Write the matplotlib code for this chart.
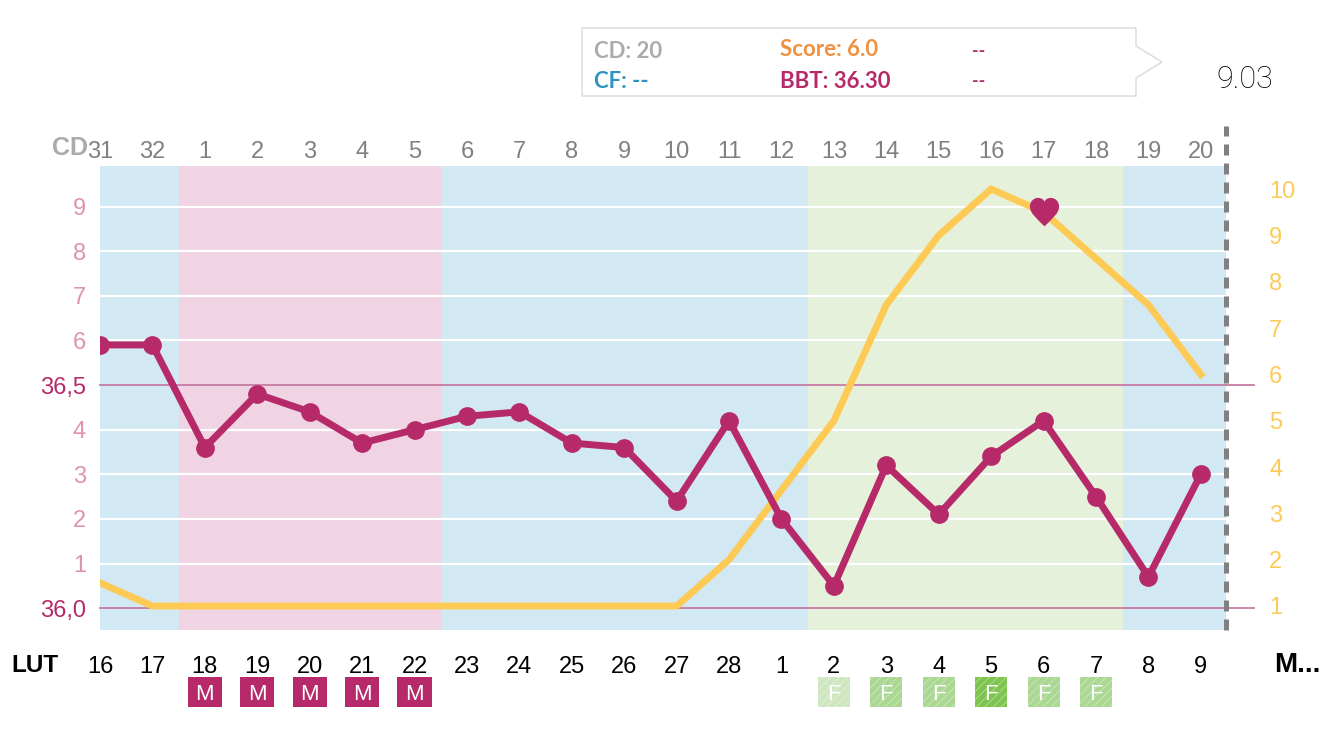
import matplotlib
matplotlib.use('Agg')
import matplotlib.pyplot as plt
from matplotlib.patches import Rectangle, Polygon
from matplotlib.path import Path

plt.rcParams['font.family'] = ['Liberation Sans', 'DejaVu Sans']
plt.rcParams['hatch.linewidth'] = 0.6

# Chart data
cd_labels = ['31', '32'] + [str(d) for d in range(1, 21)]
lut_labels = [str(d) for d in range(16, 29)] + [str(d) for d in range(1, 10)]
bbt = [36.59, 36.59, 36.36, 36.48, 36.44, 36.37, 36.40, 36.43, 36.44, 36.37, 36.36,
       36.24, 36.42, 36.20, 36.05, 36.32, 36.21, 36.34, 36.42, 36.25, 36.07, 36.30]
score = [1.5, 1, 1, 1, 1, 1, 1, 1, 1, 1, 1, 1, 2, 3.5, 5, 7.5, 9, 10, 9.5, 8.5, 7.5, 6]
bbt_ticks = [36.0, 36.1, 36.2, 36.3, 36.4, 36.5, 36.6, 36.7, 36.8, 36.9]
bbt_ticklabels = ['36,0', '1', '2', '3', '4', '36,5', '6', '7', '8', '9']
score_ticks = list(range(1, 11))
heart_day = 18
period_days = [2, 3, 4, 5, 6]
fertile_days = [14, 15, 16, 17, 18, 19]
fertile_colors = ['#cfe7c0', '#aad893', '#aad893', '#7fc450', '#aad893', '#aad893']
bands = [(-0.5, 1.5, '#d2e8f3'), (1.5, 6.5, '#f0d4e3'), (6.5, 13.5, '#d2e8f3'),
         (13.5, 19.52, '#e5f1da'), (19.52, 21.48, '#d2e8f3')]

days = list(range(len(cd_labels)))
pink = '#b62a69'
yellow = '#fdcb55'

# Heart shaped marker
heart = Path([(0, -0.95), (-0.55, -0.4), (-1, -0.05), (-1, 0.4), (-1, 0.8), (-0.7, 1), (-0.45, 1),
              (-0.2, 1), (-0.05, 0.88), (0, 0.74), (0.05, 0.88), (0.2, 1), (0.45, 1),
              (0.7, 1), (1, 0.8), (1, 0.4), (1, -0.05), (0.55, -0.4), (0, -0.95), (0, -0.95)],
             [Path.MOVETO] + [Path.CURVE4] * 18 + [Path.CLOSEPOLY])

fig = plt.figure(figsize=(13.34, 7.5), dpi=100)
ax = fig.add_axes([100 / 1334, 120 / 750, 1126 / 1334, 464 / 750])
ax2 = ax.twinx()
ax.set_xlim(0, 21.48)
ax.set_ylim(35.951, 36.991)
ax2.set_ylim(1 - 24 / 46.33, 1 + 440 / 46.33)
for spine in list(ax.spines.values()) + list(ax2.spines.values()):
    spine.set_visible(False)

# Phase bands and grid
for start, end, color in bands:
    ax.axvspan(start, end, color=color, lw=0, zorder=0)
for t in bbt_ticks:
    if t not in (36.0, 36.5):
        ax.axhline(t, color='white', lw=1.6, zorder=1)
for t in (36.0, 36.5):
    ax.plot([0, 22.01], [t, t], color='#c77ba5', lw=1.3, zorder=1, clip_on=False)

# Score line, scaled by the right axis but layered under the BBT line
ax.plot(days, score, color=yellow, lw=5, zorder=2, transform=ax2.transData,
        solid_joinstyle='miter')

# BBT line, first point is cut by the chart edge
ax.plot(days, bbt, color=pink, lw=5, zorder=3, solid_joinstyle='miter')
ax.plot(days, bbt, color=pink, ls='none', marker='o', ms=13.5, mew=0, zorder=3)
ax.plot([heart_day], [score[heart_day]], marker=heart, ms=21, color=pink, mew=0, zorder=5,
        transform=ax2.transData)

# Left, bottom and top axes
ax.set_yticks(bbt_ticks)
ax.set_yticklabels(bbt_ticklabels, fontsize=17)
ax.tick_params(axis='y', length=0, pad=10)
for t, label in zip(bbt_ticks, ax.get_yticklabels()):
    label.set_color(pink if t in (36.0, 36.5) else '#df92b2')
ax.set_xticks(days)
ax.set_xticklabels(lut_labels, fontsize=17, color='black')
ax.tick_params(axis='x', length=0, pad=18.5)
top = ax.secondary_xaxis('top')
top.set_xticks(days)
top.set_xticklabels(cd_labels, fontsize=17, color='#808080')
top.tick_params(length=0, pad=2.5)
top.spines['top'].set_visible(False)

# Right axis labels
ax2.set_yticks(score_ticks)
ax2.set_yticklabels(score_ticks, fontsize=17, color=yellow)
ax2.tick_params(axis='y', length=0, pad=31)

# Today marker
ax.plot([21.48, 21.48], [35.951, 37.08], color='#808080', lw=3.6, ls=(0, (2.2, 1.6)),
        clip_on=False, zorder=4)

# M and F boxes under the axis
trans = ax.get_xaxis_transform()
for d in period_days:
    ax.add_patch(Rectangle((d - 0.325, -0.166), 0.65, 0.0647, transform=trans, clip_on=False,
                           fc=pink, ec='none'))
    ax.text(d, -0.138, 'M', transform=trans, color='white', fontsize=16, ha='center', va='center')
for d, c in zip(fertile_days, fertile_colors):
    ax.add_patch(Rectangle((d - 0.305, -0.166), 0.61, 0.0647, transform=trans, clip_on=False,
                           fc=c, ec='#ffffff66', lw=0, hatch='////'))
    ax.text(d, -0.138, 'F', transform=trans, color='white', fontsize=16, ha='center', va='center')

# Overlay in pixels for the tooltip and side labels
ov = fig.add_axes([0, 0, 1, 1], facecolor='none')
ov.set_xlim(0, 1334)
ov.set_ylim(750, 0)
ov.axis('off')
ov.add_patch(Polygon([(582, 28), (1136, 28), (1136, 46), (1162, 62), (1136, 78), (1136, 96), (582, 96)],
                     closed=True, fc='white', ec='#dcdcdc', lw=1.1))
tip = dict(family='Lato', weight='bold', fontsize=16, va='center')
ov.text(594, 51, 'CD: 20', color='#ababab', **tip)
ov.text(594, 81, 'CF: --', color='#2f93c0', **tip)
ov.text(780, 49, 'Score: 6.0', color='#f0913f', **tip)
ov.text(780, 81, 'BBT: 36.30', color=pink, **tip)
ov.text(972, 52, '--', color=pink, family='Lato', weight='bold', fontsize=13, va='center')
ov.text(972, 82, '--', color=pink, family='Lato', weight='bold', fontsize=13, va='center')
ov.text(1216, 80, '9.03', color='black', family='Roboto', weight='light', fontsize=22, va='center')
ov.text(52, 148, 'CD', color='#ababab', weight='bold', fontsize=18, va='center')
ov.text(11, 665, 'LUT', color='black', weight='bold', fontsize=17.5, va='center')
ov.text(1274, 665, 'M...', color='black', weight='bold', fontsize=20, va='center')

fig.savefig('out.png', dpi=100)
